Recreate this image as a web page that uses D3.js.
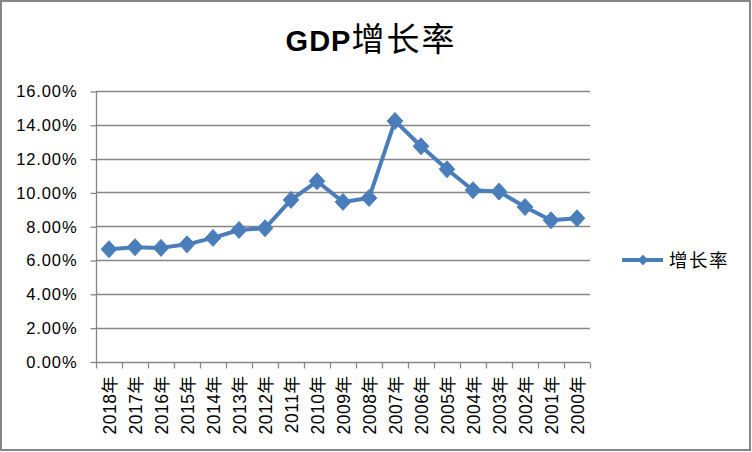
<!DOCTYPE html>
<html><head><meta charset="utf-8">
<script src="https://cdn.jsdelivr.net/npm/d3@7"></script>
<style>
html,body{margin:0;padding:0;background:#fff;}
svg{display:block;}
</style></head>
<body>
<script>
const categories = ["2018年","2017年","2016年","2015年","2014年","2013年","2012年","2011年","2010年","2009年","2008年","2007年","2006年","2005年","2004年","2003年","2002年","2001年","2000年"];
const growth = [6.64,6.76,6.72,6.93,7.31,7.78,7.88,9.56,10.66,9.44,9.67,14.23,12.73,11.37,10.13,10.05,9.14,8.35,8.47];
const yTicks = [0,2,4,6,8,10,12,14,16];
const seriesName = "增长率";
const titleLatin = "GDP";
const titleCjk = "增长率";

const W = 752, H = 452;
const blue = "#4a7ebb", grid = "#868686";
const svg = d3.select("body").append("svg").attr("width", W).attr("height", H);

svg.append("rect").attr("x",1).attr("y",1).attr("width",749).attr("height",449)
  .attr("fill","#fff").attr("stroke",grid).attr("stroke-width",2);

const x = d3.scaleBand().domain(categories).range([96,590]);
const y = d3.scaleLinear().domain([0,16]).range([361.5,91]);

// gridlines
svg.append("g").selectAll("line").data(yTicks.slice(1)).join("line")
  .attr("x1",96).attr("x2",590).attr("y1",d=>Math.round(y(d))+0.5).attr("y2",d=>Math.round(y(d))+0.5)
  .attr("stroke",grid).attr("stroke-width",1.3);

// y axis
const ya = svg.append("g").attr("transform","translate(96.5,0.5)")
  .call(d3.axisLeft(y).tickValues(yTicks).tickSize(6).tickPadding(13).tickFormat(d=>d.toFixed(2)+"%"));
ya.select(".domain").attr("stroke",grid).attr("stroke-width",1.3).attr("d","M0,"+y(16)+"V"+y(0));
ya.selectAll(".tick line").attr("stroke",grid).attr("stroke-width",1.3);
ya.selectAll(".tick text").attr("font-family","Liberation Sans, Arial, sans-serif")
  .attr("font-size",16.5).attr("letter-spacing","0.9px").attr("fill","#000");

// x axis
const xa = svg.append("g").attr("transform","translate(0,"+(Math.round(y(0))+0.5)+")");
xa.append("line").attr("x1",96).attr("x2",590).attr("stroke",grid).attr("stroke-width",1.3);
const bounds = categories.map(c=>x(c)).concat([590]);
xa.selectAll("line.tk").data(bounds).join("line").attr("class","tk")
  .attr("x1",d=>Math.round(d)+0.5).attr("x2",d=>Math.round(d)+0.5).attr("y1",0).attr("y2",6)
  .attr("stroke",grid).attr("stroke-width",1.3);
xa.selectAll("text").data(categories).join("text")
  .attr("transform",d=>`translate(${x(d)+x.bandwidth()/2+1},13) rotate(-90)`)
  .attr("text-anchor","end").attr("dominant-baseline","central")
  .attr("font-family","Liberation Sans, Arial, 'Noto Sans CJK SC', sans-serif")
  .attr("font-size",17.5).attr("letter-spacing","0.5px").attr("fill","#000").text(d=>d);

// line
const cx = d=>x(d)+x.bandwidth()/2;
const pts = categories.map((c,i)=>[cx(c), y(growth[i])]);
svg.append("path").attr("d", d3.line()(pts)).attr("fill","none")
  .attr("stroke",blue).attr("stroke-width",4).attr("stroke-linejoin","round");
const diamond = s => `M0,${-s}L${s*0.92},0L0,${s}L${-s*0.92},0Z`;
svg.append("g").selectAll("path").data(pts).join("path")
  .attr("transform",d=>`translate(${d[0]},${d[1]})`).attr("d",diamond(8.5))
  .attr("fill",blue).attr("stroke",blue).attr("stroke-width",1);

// title
const t = svg.append("text").attr("x",371).attr("y",51).attr("text-anchor","middle").attr("fill","#000");
t.append("tspan").attr("font-family","Liberation Sans, Arial, sans-serif").attr("font-weight","bold")
  .attr("font-size",29).attr("letter-spacing","1px").text(titleLatin);
t.append("tspan").attr("font-family","'Noto Sans CJK SC', sans-serif").attr("font-weight","normal")
  .attr("font-size",33).attr("letter-spacing","2px").text(titleCjk);

// legend
const lg = svg.append("g");
lg.append("line").attr("x1",622).attr("x2",663).attr("y1",260).attr("y2",260)
  .attr("stroke",blue).attr("stroke-width",4);
lg.append("path").attr("transform","translate(643,260)").attr("d",diamond(5.5)).attr("fill",blue);
lg.append("text").attr("x",669).attr("y",266.5).attr("font-family","'Noto Sans CJK SC', sans-serif")
  .attr("font-size",18.5).attr("letter-spacing","1.5px").attr("fill","#000").text(seriesName);
</script>
</body></html>
